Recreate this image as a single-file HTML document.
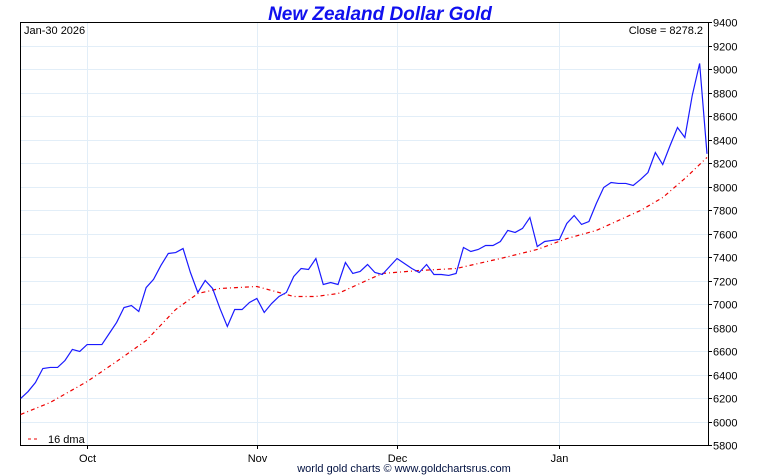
<!DOCTYPE html>
<html><head><meta charset="utf-8"><style>
body{margin:0;background:#fff;}
svg{display:block;font-family:"Liberation Sans",sans-serif;}
</style></head><body>
<svg id="chart" width="760" height="475">
<text x="380" y="20" text-anchor="middle" font-size="19" font-weight="bold" font-style="italic" fill="#1010ee">New Zealand Dollar Gold</text>
<g id="grid"></g>
<g id="axes"></g>
<text x="24" y="34" font-size="11">Jan-30  2026</text>
<text x="703" y="34" font-size="11" text-anchor="end">Close = 8278.2</text>
<g>
<line x1="28" y1="439" x2="40" y2="439" stroke="#e00" stroke-dasharray="3,3"/>
<text x="48" y="443" font-size="11">16 dma</text>
</g>
<text x="404" y="472" font-size="11" text-anchor="middle" fill="#001040">world gold charts © www.goldchartsrus.com</text>
</svg>
<script>
const prices=[6196,6255,6332,6451,6460,6460,6519,6613,6596,6655,6655,6655,6749,6843,6970,6987,6936,7140,7209,7328,7430,7438,7472,7268,7098,7200,7132,6962,6809,6953,6953,7013,7047,6928,7004,7064,7098,7234,7302,7294,7387,7166,7183,7166,7353,7260,7277,7336,7268,7251,7319,7387,7345,7302,7268,7336,7251,7251,7243,7260,7481,7447,7464,7498,7498,7532,7626,7609,7643,7736,7489,7532,7541,7549,7685,7753,7677,7702,7855,7991,8034,8026,8026,8009,8060,8119,8289,8187,8349,8502,8417,8775,9047,8278];
const dmaIdx=[0,4,9,13,17,21,24,27,32,34,37,40,43,46,49,54,59,65,70,74,78,84,87,90,93];
const dmaVals=[6060,6162,6340,6511,6689,6953,7089,7132,7149,7115,7064,7064,7089,7175,7260,7285,7302,7387,7464,7557,7626,7796,7906,8068,8247];
const yTicks=[5800,6000,6200,6400,6600,6800,7000,7200,7400,7600,7800,8000,8200,8400,8600,8800,9000,9200,9400];
const monthLabels=["Oct","Nov","Dec","Jan"];
const monthIdx=[9,32,51,73];

const L=20,R=708,T=22,B=445,yMin=5800,yMax=9400;
const X0=20.7,X1=707;
const n=prices.length;
const x=i=>X0+(X1-X0)*i/(n-1);
const y=v=>B-(v-yMin)/(yMax-yMin)*(B-T);
const NS="http://www.w3.org/2000/svg";
const svg=document.getElementById('chart');
const grid=document.getElementById('grid');
const axes=document.getElementById('axes');
function mk(tag,attrs,parent){const e=document.createElementNS(NS,tag);for(const k in attrs)e.setAttribute(k,attrs[k]);parent.appendChild(e);return e;}

yTicks.forEach(v=>{
  const yy=Math.round(y(v))+0.5;
  const g=mk('line',{x1:L,x2:R,y1:yy,y2:yy,stroke:'#e2eef8'},grid);
  
  
  const t=mk('line',{x1:R,x2:R+4,y1:yy,y2:yy,stroke:'#000'},axes);
  
  
  const lb=mk('text',{x:R+5,y:yy+4,'font-size':11},axes);
  lb.textContent=v;
  
  
});
monthLabels.forEach((m,k)=>{
  const xx=Math.round(x(monthIdx[k]))+0.5;
  const g=mk('line',{x1:xx,x2:xx,y1:T,y2:B,stroke:'#e2eef8'},grid);
  
  
  const t=mk('line',{x1:xx,x2:xx,y1:B,y2:B+4,stroke:'#000'},axes);
  
  
  const lb=mk('text',{x:xx,y:B+17,'font-size':11,'text-anchor':'middle'},axes);
  lb.textContent=m;
  
  
});
const frame=mk('rect',{x:L+0.5,y:T+0.5,width:R-L,height:B-T,fill:'none',stroke:'#000'},axes);



const dma=mk('polyline',{points:dmaIdx.map((i,k)=>x(i)+','+y(dmaVals[k])).join(' '),fill:'none',stroke:'#e00','stroke-width':1.2,'stroke-dasharray':'4,3,1,3'},svg);


const pl=mk('polyline',{points:prices.map((v,i)=>x(i)+','+y(v)).join(' '),fill:'none',stroke:'#1a1aff','stroke-width':1.2},svg);


</script>
</body></html>
